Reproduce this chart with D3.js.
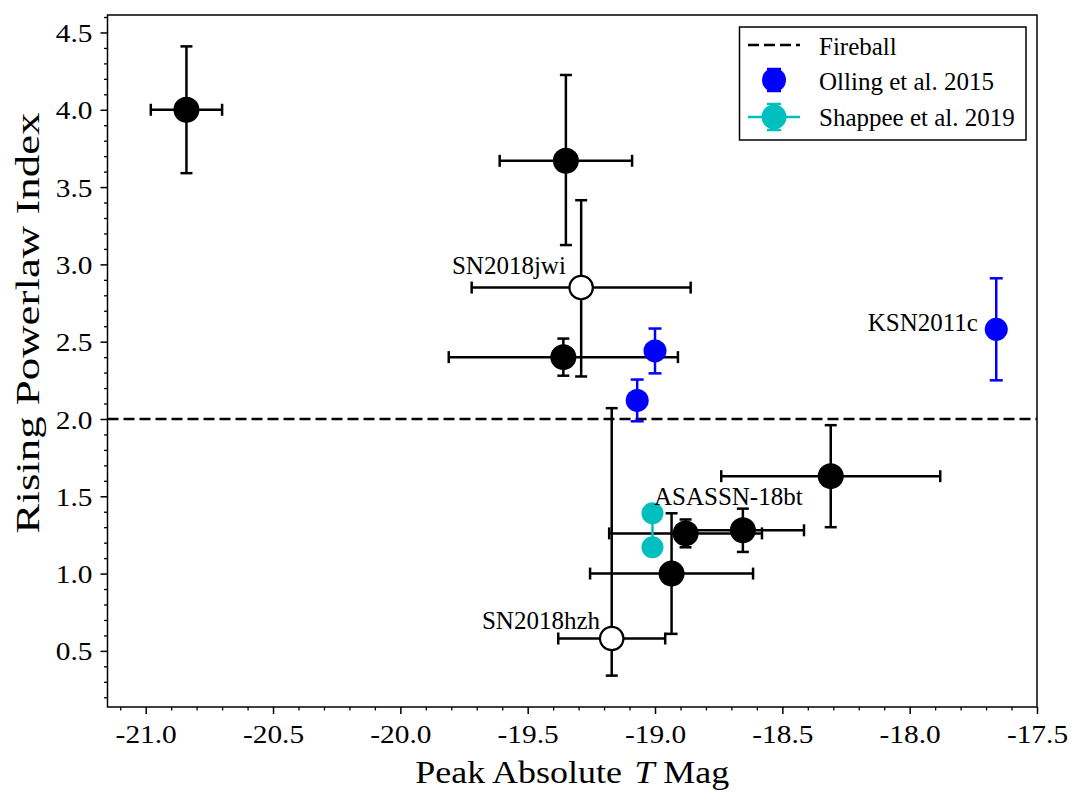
<!DOCTYPE html>
<html><head><meta charset="utf-8">
<script src="https://cdn.jsdelivr.net/npm/d3@7"></script>
<style>body{margin:0;background:#fff}</style>
</head><body><svg id="chart" width="1082" height="807"></svg>
<script>
// ---------- data ----------
const blackX      = [-20.84, -19.35, -19.36, -18.31, -18.655, -18.88, -18.935];
const blackXErr   = [0.14, 0.26, 0.45, 0.43, 0.24, 0.30, 0.32];
const blackY      = [4.00, 3.67, 2.40, 1.63, 1.28, 1.26, 1.00];
const blackYErrLo = [0.41, 0.545, 0.12, 0.33, 0.14, 0.09, 0.39];
const blackYErrHi = [0.41, 0.555, 0.12, 0.33, 0.14, 0.09, 0.39];

const openNames   = ["SN2018jwi", "SN2018hzh"];
const openX       = [-19.29, -19.17];
const openXErr    = [0.43, 0.21];
const openY       = [2.85, 0.58];
const openYErrLo  = [0.575, 0.24];
const openYErrHi  = [0.565, 1.49];

const ollingX     = [-19.00, -19.07, -17.66];
const ollingY     = [2.44, 2.12, 2.58];
const ollingYErr  = [0.145, 0.135, 0.33];

const shappeeX    = [-19.01, -19.01];
const shappeeY    = [1.39, 1.17];
const shappeeYErr = [0.03, 0.03];

const fireballY   = 2.0;

const labelText   = ["SN2018jwi", "SN2018hzh", "KSN2011c", "ASASSN-18bt"];
const labelX      = [-19.35, -19.216, -17.732, -19.004];
const labelY      = [2.938, 0.642, 2.569, 1.444];
const labelAnchor = ["end", "end", "end", "start"];

const legendLabels = ["Fireball", "Olling et al. 2015", "Shappee et al. 2019"];

const xTicks = [-21.0, -20.5, -20.0, -19.5, -19.0, -18.5, -18.0, -17.5];
const yTicks = [0.5, 1.0, 1.5, 2.0, 2.5, 3.0, 3.5, 4.0, 4.5];
const xDomain = [-21.15, -17.5];
const yDomain = [0.137, 4.613];

const xLabel = "Peak Absolute ";
const xLabelItalic = "T";
const xLabelTail = " Mag";
const yLabel = "Rising Powerlaw Index";

// ---------- layout ----------
const FONT = "'Liberation Serif','Times New Roman',Times,serif";
const L = 107.5, R = 1037, T = 15, B = 707;
const BLUE = "#0000ff", CYAN = "#00bfbf";

const svg = d3.select("#chart");
const x = d3.scaleLinear().domain(xDomain).range([L, R]);
const y = d3.scaleLinear().domain(yDomain).range([B, T]);

const plot = svg.append("g");
svg.append("defs").append("clipPath").attr("id", "clip")
  .append("rect").attr("x", L).attr("y", T).attr("width", R - L).attr("height", B - T);

// fireball line
plot.append("line").attr("clip-path", "url(#clip)")
  .attr("x1", L).attr("x2", R).attr("y1", y(fireballY)).attr("y2", y(fireballY))
  .attr("stroke", "#000").attr("stroke-width", 2.5).attr("stroke-dasharray", "11,5");

function errorbars(g, xs, ys, xlo, xhi, ylo, yhi, color, cap) {
  xs.forEach((xv, i) => {
    const cx = x(xv), cy = y(ys[i]);
    if (xlo && xlo[i] > 0) {
      const a = x(xv - xlo[i]), b = x(xv + xhi[i]);
      g.append("line").attr("x1", a).attr("x2", b).attr("y1", cy).attr("y2", cy)
        .attr("stroke", color).attr("stroke-width", 2.5);
      [a, b].forEach(p => g.append("line").attr("x1", p).attr("x2", p)
        .attr("y1", cy - cap).attr("y2", cy + cap).attr("stroke", color).attr("stroke-width", 2.5));
    }
    if (ylo && ylo[i] > 0) {
      const a = y(ys[i] - ylo[i]), b = y(ys[i] + yhi[i]);
      g.append("line").attr("x1", cx).attr("x2", cx).attr("y1", a).attr("y2", b)
        .attr("stroke", color).attr("stroke-width", 2.5);
      [a, b].forEach(p => g.append("line").attr("y1", p).attr("y2", p)
        .attr("x1", cx - cap).attr("x2", cx + cap).attr("stroke", color).attr("stroke-width", 2.5));
    }
  });
}
function markers(g, xs, ys, r, fill, stroke, sw) {
  xs.forEach((xv, i) => g.append("circle").attr("cx", x(xv)).attr("cy", y(ys[i])).attr("r", r)
    .attr("fill", fill).attr("stroke", stroke || "none").attr("stroke-width", sw || 0));
}

// black filled
const gb = plot.append("g");
errorbars(gb, blackX, blackY, blackXErr, blackXErr, blackYErrLo, blackYErrHi, "#000", 6);
markers(gb, blackX, blackY, 13, "#000");

// open
const go = plot.append("g");
errorbars(go, openX, openY, openXErr, openXErr, openYErrLo, openYErrHi, "#000", 6);
markers(go, openX, openY, 11.7, "#fff", "#000", 2.2);

// Olling
const gbl = plot.append("g");
errorbars(gbl, ollingX, ollingY, null, null, ollingYErr, ollingYErr, BLUE, 6.5);
markers(gbl, ollingX, ollingY, 11.5, BLUE);

// Shappee
const gc = plot.append("g");
gc.append("path").datum(shappeeX.map((v, i) => [v, shappeeY[i]]))
  .attr("d", d3.line().x(d => x(d[0])).y(d => y(d[1])))
  .attr("stroke", CYAN).attr("stroke-width", 2.5).attr("fill", "none");
errorbars(gc, shappeeX, shappeeY, null, null, shappeeYErr, shappeeYErr, CYAN, 6);
markers(gc, shappeeX, shappeeY, 11, CYAN);

// annotations
labelText.forEach((t, i) => svg.append("text")
  .attr("x", x(labelX[i])).attr("y", y(labelY[i]))
  .attr("text-anchor", labelAnchor[i])
  .attr("font-family", FONT).attr("font-size", 25).attr("fill", "#000").text(t));

// axes
const TS = 26, SX = 1.13;
const fmt = d3.format(".1f");
const xa = svg.append("g").attr("transform", `translate(0,${B})`)
  .call(d3.axisBottom(x).tickValues(xTicks).tickSize(7).tickFormat(d => fmt(d).replace("−", "-")));
const xMinor = d3.range(-21.1, -17.55, 0.1).filter(v => !xTicks.some(t => Math.abs(t - v) < 1e-6));
svg.append("g").attr("transform", `translate(0,${B})`)
  .call(d3.axisBottom(x).tickValues(xMinor).tickSize(3.5).tickFormat(""))
  .call(g => g.select(".domain").remove())
  .selectAll("line").attr("stroke-width", 1.3);
xa.select(".domain").remove();
xa.selectAll("line").attr("stroke-width", 1.5);
xa.selectAll("text").attr("y", 36).attr("dy", null)
  .attr("font-family", FONT).attr("font-size", TS).attr("fill", "#000")
  .attr("transform", `scale(${SX},1)`);

const ya = svg.append("g").attr("transform", `translate(${L},0)`)
  .call(d3.axisLeft(y).tickValues(yTicks).tickSize(7).tickFormat(fmt));
const yMinor = d3.range(0.2, 4.65, 0.1).filter(v => !yTicks.some(t => Math.abs(t - v) < 1e-6));
svg.append("g").attr("transform", `translate(${L},0)`)
  .call(d3.axisLeft(y).tickValues(yMinor).tickSize(3.5).tickFormat(""))
  .call(g => g.select(".domain").remove())
  .selectAll("line").attr("stroke-width", 1.3);
ya.select(".domain").remove();
ya.selectAll("line").attr("stroke-width", 1.5);
ya.selectAll("text").attr("x", -15 / SX).attr("dy", "0.35em")
  .attr("font-family", FONT).attr("font-size", TS).attr("fill", "#000")
  .attr("transform", `scale(${SX},1)`);

// frame
svg.append("rect").attr("x", L).attr("y", T).attr("width", R - L).attr("height", B - T)
  .attr("fill", "none").attr("stroke", "#000").attr("stroke-width", 1.5);

// axis labels
const xl = svg.append("text").attr("transform", `translate(${(L + R) / 2},783) scale(1.16,1)`)
  .attr("text-anchor", "middle").attr("font-family", FONT).attr("font-size", 31).attr("fill", "#000");
xl.append("tspan").text(xLabel);
xl.append("tspan").attr("font-style", "italic").attr("dx", 3).text(xLabelItalic);
xl.append("tspan").text(xLabelTail);

svg.append("text").attr("transform", `translate(39,323) rotate(-90) scale(1.3,1)`)
  .attr("text-anchor", "middle").attr("font-family", FONT).attr("font-size", 34.5).attr("fill", "#000")
  .text(yLabel);

// legend
const lg = svg.append("g");
lg.append("rect").attr("x", 739.5).attr("y", 27).attr("width", 286.5).attr("height", 113)
  .attr("fill", "#fff").attr("stroke", "#000").attr("stroke-width", 1.5);
const rows = [45, 80, 117];
const baselines = [55, 90, 126];
lg.append("line").attr("x1", 748).attr("x2", 800).attr("y1", rows[0]).attr("y2", rows[0])
  .attr("stroke", "#000").attr("stroke-width", 2.5).attr("stroke-dasharray", "11,5");
// Olling entry
lg.append("line").attr("x1", 774).attr("x2", 774).attr("y1", rows[1] - 11).attr("y2", rows[1] + 11)
  .attr("stroke", BLUE).attr("stroke-width", 2.5);
[rows[1] - 11, rows[1] + 11].forEach(p => lg.append("line").attr("x1", 767).attr("x2", 781)
  .attr("y1", p).attr("y2", p).attr("stroke", BLUE).attr("stroke-width", 2.5));
lg.append("circle").attr("cx", 774).attr("cy", rows[1]).attr("r", 12).attr("fill", BLUE);
// Shappee entry
lg.append("line").attr("x1", 748).attr("x2", 800).attr("y1", rows[2]).attr("y2", rows[2])
  .attr("stroke", CYAN).attr("stroke-width", 2.5);
lg.append("line").attr("x1", 774).attr("x2", 774).attr("y1", rows[2] - 13).attr("y2", rows[2] + 13)
  .attr("stroke", CYAN).attr("stroke-width", 2.5);
[rows[2] - 13, rows[2] + 13].forEach(p => lg.append("line").attr("x1", 767).attr("x2", 781)
  .attr("y1", p).attr("y2", p).attr("stroke", CYAN).attr("stroke-width", 2.5));
lg.append("circle").attr("cx", 774).attr("cy", rows[2]).attr("r", 12.5).attr("fill", CYAN);
legendLabels.forEach((t, i) => lg.append("text").attr("x", 819).attr("y", baselines[i])
  .attr("font-family", FONT).attr("font-size", 25).attr("fill", "#000").text(t));
</script>
</body></html>
